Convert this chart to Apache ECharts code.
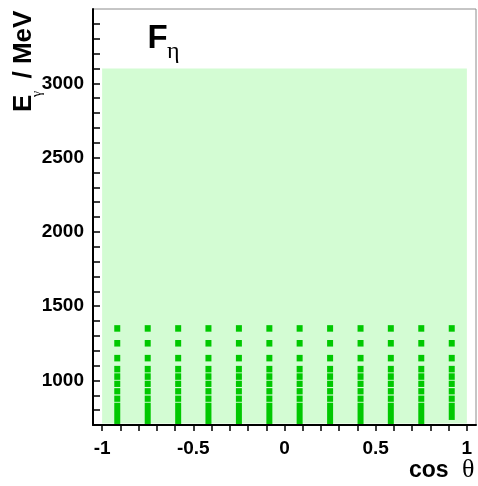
<!DOCTYPE html>
<html><head><meta charset="utf-8">
<script src="https://cdn.jsdelivr.net/npm/echarts@6/dist/echarts.min.js"></script>
<style>html,body{margin:0;padding:0;background:#fff}#c{width:478px;height:486px}</style>
</head><body><div id="c"></div>
<script>
// cos(theta) bin centres of the dark-green boxes
const cosBins = [-0.917, -0.75, -0.583, -0.417, -0.25, -0.083, 0.083, 0.25, 0.417, 0.583, 0.75, 0.917];
// energy extents (MeV) of the box rows, top row first
const boxLow  = [1328, 1228, 1128, 1054, 1004, 956, 906, 856, 707];
const boxHigh = [1372, 1272, 1172, 1098, 1048, 998, 948, 898, 850];
// lower edge of the bottom block per cos bin
const blockLow = [707, 707, 707, 707, 707, 707, 707, 707, 707, 707, 707, 734];
// light-green acceptance region [xmin, Emin, xmax, Emax]
const fillRegion = [[-1, 710, 1, 3100]];
// ticks
const xMinorTicks = [-1, -0.9, -0.8, -0.7, -0.6, -0.5, -0.4, -0.3, -0.2, -0.1, 0, 0.1, 0.2, 0.3, 0.4, 0.5, 0.6, 0.7, 0.8, 0.9, 1];
const xTickLabels = [-1, -0.5, 0, 0.5, 1];
const yMinorTicks = [700, 800, 900, 1000, 1100, 1200, 1300, 1400, 1500, 1600, 1700, 1800, 1900, 2000, 2100, 2200, 2300, 2400, 2500, 2600, 2700, 2800, 2900, 3000, 3100, 3200, 3300, 3400];
const yTickLabels = [1000, 1500, 2000, 2500, 3000];

const boxes = [];
cosBins.forEach((c, ci) => {
  boxLow.forEach((lo, ri) => {
    const low = ri === boxLow.length - 1 ? blockLow[ci] : lo;
    boxes.push([c, low, boxHigh[ri]]);
  });
});

const FONT = "'Liberation Sans', Arial, sans-serif";
const chart = echarts.init(document.getElementById('c'), null, {renderer: 'canvas'});

function txt(text, x, y, font, rot, align, valign) {
  return {type: 'text', x: x, y: y, rotation: rot || 0, z: 100,
    style: {text: text, font: font, fill: '#000', textAlign: align || 'left', textVerticalAlign: valign || 'middle',
            align: align || 'left', verticalAlign: valign || 'middle'}};
}

chart.setOption({
  animation: false,
  backgroundColor: '#fff',
  grid: {left: 93, right: 2, top: 9, bottom: 61, show: true, borderColor: '#8c8c8c', borderWidth: 1, backgroundColor: 'transparent'},
  xAxis: {
    type: 'value', min: -1.05, max: 1.05,
    axisLine: {show: true, onZero: false, lineStyle: {color: '#000', width: 2}},
    axisTick: {show: true, customValues: xMinorTicks, length: 6, inside: false, lineStyle: {color: '#000', width: 1.5}},
    axisLabel: {customValues: xTickLabels, margin: 14, color: '#000', fontFamily: FONT, fontWeight: 'bold', fontSize: 19,
                formatter: function (v) { return String(v); }},
    splitLine: {show: false}
  },
  yAxis: {
    type: 'value', min: 700, max: 3500,
    axisLine: {show: true, onZero: false, lineStyle: {color: '#000', width: 2}},
    axisTick: {show: true, customValues: yMinorTicks, length: 7, inside: true, lineStyle: {color: '#000', width: 1.5}},
    axisLabel: {customValues: yTickLabels, margin: 9, color: '#000', fontFamily: FONT, fontWeight: 'bold', fontSize: 19,
                formatter: function (v) { return String(v); }},
    splitLine: {show: false}
  },
  series: [
    {
      type: 'custom', clip: true, z: 1,
      data: fillRegion,
      encode: {x: [0, 2], y: [1, 3]},
      renderItem: function (params, api) {
        const a = api.coord([api.value(0), api.value(3)]);
        const b = api.coord([api.value(2), api.value(1)]);
        return {type: 'rect', shape: {x: a[0], y: a[1], width: b[0] - a[0], height: b[1] - a[1]},
                style: {fill: '#d3fcd3'}};
      }
    },
    {
      type: 'custom', clip: true, z: 2,
      data: boxes,
      encode: {x: 0, y: [1, 2]},
      renderItem: function (params, api) {
        const top = api.coord([api.value(0), api.value(2)]);
        const bot = api.coord([api.value(0), api.value(1)]);
        return {type: 'rect', shape: {x: top[0] - 3, y: top[1], width: 6, height: bot[1] - top[1]},
                style: {fill: '#00c800'}};
      }
    }
  ],
  graphic: [
    txt('F', 147.6, 38.7, "bold 33px " + FONT),
    txt('η', 167, 52, "24px 'Liberation Serif', serif"),
    txt('cos', 409, 470.5, "bold 23px " + FONT),
    txt('θ', 462, 470, "26px 'Liberation Serif', serif"),
    txt('E', 24.3, 112, "bold 26px " + FONT, Math.PI / 2),
    txt('γ', 37.5, 97, "14px 'Liberation Serif', serif", Math.PI / 2),
    txt('/ MeV', 24.3, 78.5, "bold 26px " + FONT, Math.PI / 2)
  ]
});
</script></body></html>
